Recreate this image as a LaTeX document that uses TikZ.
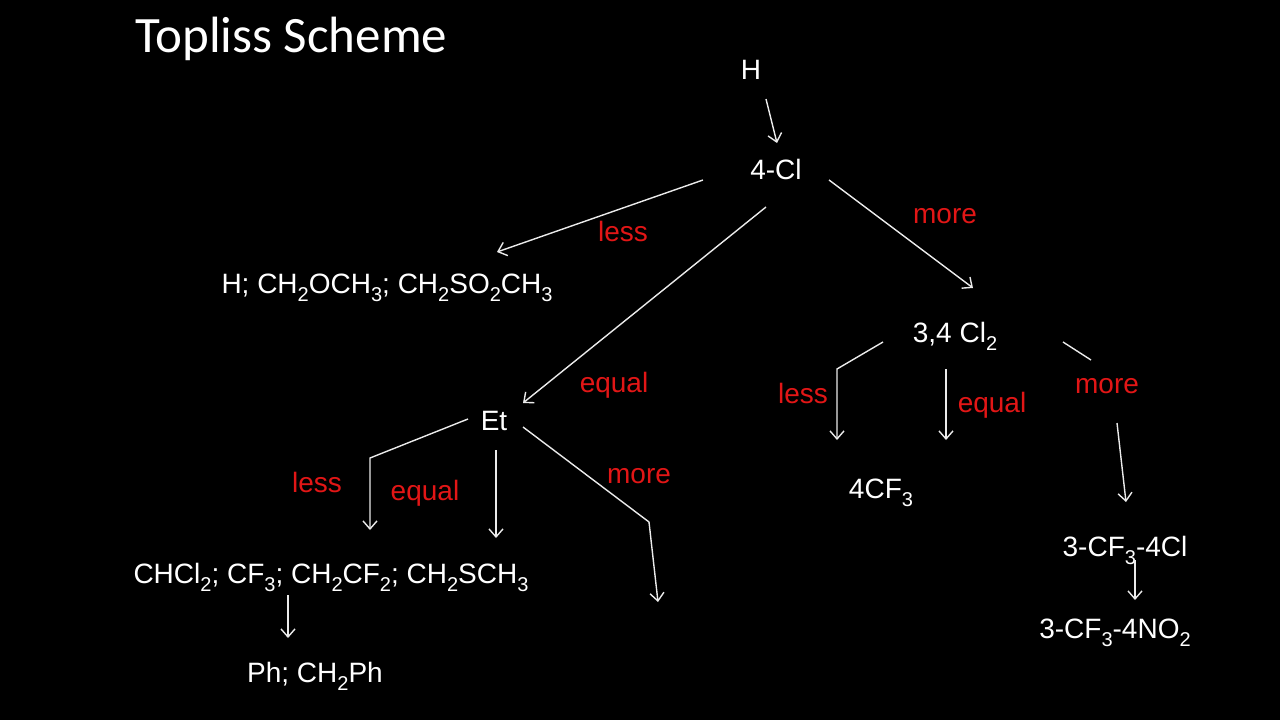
\documentclass[tikz,border=0pt]{standalone}
\usepackage{fontspec}
\setmainfont{Liberation Sans}
\newfontfamily\titlefont{Carlito}
\usepackage{xcolor}
\usetikzlibrary{arrows.meta}
\definecolor{slidered}{RGB}{226,22,22}
\definecolor{linegrey}{RGB}{235,235,235}
\newcommand{\chsub}[1]{\raisebox{-8.5pt}{\fontsize{20}{20}\selectfont #1}}

\begin{document}
\begin{tikzpicture}[
  x=1pt, y=-1pt,
  chem/.style={anchor=base, inner sep=0pt, text=white,
               font=\fontsize{28}{32}\selectfont},
  lab/.style={anchor=base, inner sep=0pt, text=slidered,
              font=\fontsize{28}{32}\selectfont},
  arr/.style={-{Straight Barb[length=8pt, width=14pt]}, line width=1.4pt, draw=linegrey},
  seg/.style={line width=1.4pt, draw=linegrey},
]
\fill[black] (0,0) rectangle (1280,720);
\useasboundingbox (0,0) rectangle (1280,720);
\node[anchor=base west, inner sep=0pt, text=white,
      font=\titlefont\fontsize{51}{56}\selectfont] (title) at (135,52) {Topliss Scheme};

\node[chem] (h) at (751,79) {H};
\node[chem] (cl4) at (776,179) {4-Cl};
\node[chem] (hlist) at (387,293) {H; CH\chsub{2}OCH\chsub{3}; CH\chsub{2}SO\chsub{2}CH\chsub{3}};
\node[chem] (cltwo) at (955,342) {3,4 Cl\chsub{2}};
\node[chem] (et) at (494,430) {Et};
\node[chem] (cfthree) at (881,498) {4CF\chsub{3}};
\node[chem] (cfcl) at (1125,556) {3-CF\chsub{3}-4Cl};
\node[chem] (cfno) at (1115,638) {3-CF\chsub{3}-4NO\chsub{2}};
\node[chem] (chlist) at (331,583) {CHCl\chsub{2}; CF\chsub{3}; CH\chsub{2}CF\chsub{2}; CH\chsub{2}SCH\chsub{3}};
\node[chem] (phlist) at (315,682) {Ph; CH\chsub{2}Ph};

\node[lab] (lessA) at (623,241) {less};
\node[lab] (moreA) at (945,223) {more};
\node[lab] (equalA) at (614,392) {equal};
\node[lab] (lessB) at (803,403) {less};
\node[lab] (equalB) at (992,412) {equal};
\node[lab] (moreB) at (1107,393) {more};
\node[lab] (lessC) at (317,492) {less};
\node[lab] (equalC) at (425,500) {equal};
\node[lab] (moreC) at (639,483) {more};

\coordinate (lessbend) at (837,369);
\coordinate (morestub) at (1091,360);
\coordinate (morestart) at (1117,423);
\coordinate (etlessbend) at (370,458);
\coordinate (etmorebend) at (649,522);
\coordinate (etmoreend) at (658,602);

\draw[arr] ([shift={(15,20)}]h.base) -- ([shift={(1,-36)}]cl4.base);
\draw[arr] ([shift={(-73,1)}]cl4.base) -- ([shift={(110,-41)}]hlist.base);
\draw[arr] ([shift={(-10,28)}]cl4.base) -- ([shift={(29,-27)}]et.base);
\draw[arr] ([shift={(53,1)}]cl4.base) -- ([shift={(18,-54)}]cltwo.base);
\draw[arr] ([shift={(-72,0)}]cltwo.base) -- (lessbend) -- ([shift={(-44,-58)}]cfthree.base);
\draw[arr] ([shift={(-9,27)}]cltwo.base) -- ([shift={(65,-58)}]cfthree.base);
\draw[seg] ([shift={(108,0)}]cltwo.base) -- (morestub);
\draw[arr] (morestart) -- ([shift={(1,-54)}]cfcl.base);
\draw[arr] ([shift={(-26,-11)}]et.base) -- (etlessbend) -- ([shift={(39,-53)}]chlist.base);
\draw[arr] ([shift={(2,20)}]et.base) -- ([shift={(165,-45)}]chlist.base);
\draw[arr] ([shift={(29,-3)}]et.base) -- (etmorebend) -- (etmoreend);
\draw[arr] ([shift={(-43,12)}]chlist.base) -- ([shift={(-27,-44)}]phlist.base);
\draw[arr] ([shift={(10,4)}]cfcl.base) -- ([shift={(20,-38)}]cfno.base);
\end{tikzpicture}
\end{document}
